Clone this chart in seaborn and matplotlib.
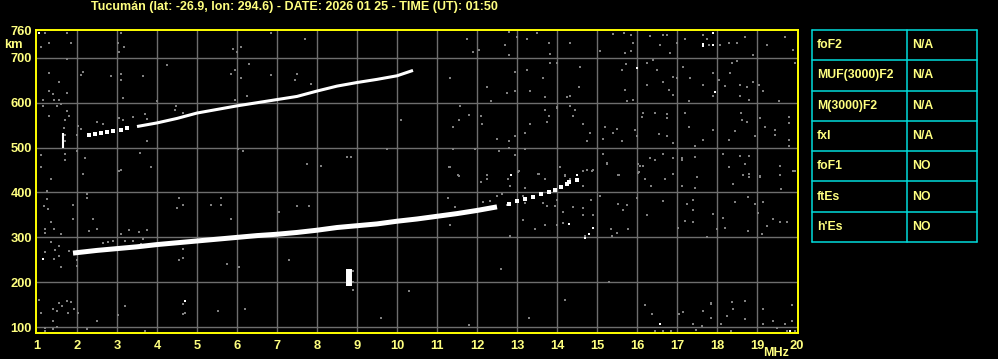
import matplotlib
matplotlib.use("Agg")
import matplotlib.pyplot as plt
import seaborn as sns
import pandas as pd

sns.set_style("dark")
plt.rcParams['font.family'] = ['Liberation Sans', 'DejaVu Sans']
plt.rcParams['font.weight'] = 'bold'

TITLE = "Tucumán (lat: -26.9, lon: 294.6) - DATE: 2026 01 25 - TIME (UT): 01:50"

x_ticks = list(range(1, 21))
y_ticks = [100, 200, 300, 400, 500, 600, 700, 760]

# lower (1-hop) F trace
f1_freq = [1.9, 2.5, 3.0, 3.5, 4.0, 4.5, 5.0, 5.5, 6.0, 6.5, 7.0, 7.5, 8.0, 8.5,
           9.0, 9.5, 10.0, 10.5, 11.0, 11.5, 12.0, 12.5]
f1_km = [265, 271, 275, 279, 284, 288, 292, 296, 300, 304, 307, 311, 316, 322,
         326, 330, 336, 341, 347, 353, 360, 368]
f1_tail_freq = [12.8, 13.0, 13.2, 13.4, 13.6, 13.8, 13.95, 14.1, 14.25, 14.3, 14.5]
f1_tail_km = [375, 380, 385, 390, 396, 402, 405, 412, 418, 424, 428]

# upper (2-hop) trace
f2_freq = [3.5, 4.0, 4.5, 5.0, 5.5, 6.0, 6.5, 7.0, 7.5, 8.0, 8.5, 9.0, 9.5, 10.0, 10.4]
f2_km = [547, 555, 565, 577, 585, 593, 600, 607, 614, 626, 637, 645, 652, 660, 672]
f2_start_freq = [2.3, 2.45, 2.6, 2.75, 2.9, 3.1, 3.25]
f2_start_km = [527, 530, 533, 534, 537, 540, 544]

# vertical bars
bar_freq = [1.65, 8.8]
bar_low = [500, 191]
bar_high = [533, 229]

# grey noise
noise_freq = [
    11.75, 12.79, 12.70, 13.0, 13.25, 13.5, 13.79, 13.83, 11.91, 12.04, 12.81, 14.33, 14.58, 14.0, 13.83,
    11.33, 12.25, 12.95, 13.25, 13.66, 12.75, 12.95, 13.33, 13.70, 14.0, 12.35, 14.25, 14.33, 14.54,
    15.08, 15.4, 15.68, 15.85, 15.91, 15.7, 15.85, 16.33, 16.65, 16.75, 16.58, 16.83, 17.0, 17.2, 17.66,
    17.75, 17.79, 18.08, 18.29, 18.5, 18.7, 18.91, 19.25, 19.7, 19.91, 15.62, 15.73, 16.25, 16.41, 16.5,
    16.66, 16.91, 17.16, 17.0, 17.33, 17.66, 17.91, 18.04, 18.2, 18.37, 18.33, 18.5, 18.58, 18.75, 18.91,
    19.16, 19.04, 19.54, 19.95, 15.75, 15.91, 15.7, 16.25, 16.79, 16.91, 17.29, 17.91, 18.58, 18.79,
    11.58, 11.8, 12.1, 11.54, 11.41, 12.12, 12.5, 12.79, 12.95, 13.33, 13.2, 13.7, 13.79, 13.75, 14.01,
    14.33, 14.45, 14.41, 14.66, 14.83, 14.75, 15.2, 15.41, 15.5, 15.62, 15.15, 15.95, 16.0, 16.15, 16.12,
    16.45, 16.75, 16.75, 16.54, 16.75, 16.91, 17.2, 17.29, 17.45, 17.66, 17.91, 18.29, 18.45, 18.6, 18.62,
    18.75, 18.95, 19.08, 19.2, 19.45, 19.45, 19.79, 19.79, 19.79, 19.8, 11.41, 11.95, 12.54, 12.81, 12.95,
    13.2, 11.33, 11.54, 12.25, 13.04, 13.54, 14.08, 14.2, 14.66, 14.9, 15.15, 15.25, 15.54, 16.08, 16.04,
    16.33, 16.45, 16.66, 16.91, 17.12, 17.45, 17.5, 18.15, 18.29, 18.58, 18.79, 18.79, 19.08, 19.58, 19.91,
    11.3, 11.53, 12.24, 12.09, 12.24, 12.78, 13.03, 12.83, 13.2, 13.53, 13.7, 14.2, 14.33, 14.64, 14.74,
    14.87, 15.24, 15.53, 16.03, 16.14, 16.03, 16.2, 16.34, 16.7, 16.91, 17.12, 17.12, 17.49, 17.45, 18.3,
    18.66, 18.81, 18.7, 19.08, 19.58, 19.58, 19.59, 19.95, 18.41, 11.28, 11.45, 12.16, 12.33, 12.49, 12.62,
    12.74, 13.14, 13.2, 13.66, 13.74, 13.95, 14.0, 14.14, 14.41, 14.66, 14.66, 14.84, 14.91, 15.08, 15.53,
    15.74, 15.64, 15.99, 16.24, 16.66, 17.24, 17.41, 17.39, 17.41, 17.91, 18.16, 18.45, 18.78, 18.95, 19.16,
    19.03, 19.39, 19.58, 19.74, 19.24, 19.12, 17.99, 18.78, 18.2, 17.74, 17.03, 17.2, 15.78, 15.49, 15.37,
    15.34, 14.89, 14.7, 14.16, 13.99, 13.7, 13.45, 13.16, 12.83, 11.33,
    1.06, 1.21, 1.74, 1.29, 1.1, 1.85, 3.1, 3.02, 3.18, 3.04, 1.75, 1.29, 2.14, 2.1, 2.85, 3.1, 3.1, 3.64,
    4.24, 1.54, 1.29, 1.39, 1.74, 1.14, 1.43, 1.54, 1.6, 1.14, 1.5, 1.74, 1.29, 1.79, 1.7, 1.68, 1.7, 1.7,
    1.7, 1.7, 2.03, 2.1, 2.29, 2.5, 2.64, 3.04, 3.14, 3.39, 3.7, 3.74, 3.14, 3.99, 4.48, 4.46, 4.64, 3.74,
    3.85, 3.58, 1.1, 1.1, 1.35, 2.14, 2.21, 3.1, 3.04, 1.99, 1.99, 5.91, 6.1, 6.0, 6.31, 5.85, 5.95, 6.1,
    6.24, 5.95, 6.85, 6.85, 7.49, 7.45, 7.7, 7.85, 6.03, 6.14, 7.74, 8.1, 8.74, 8.85, 9.74, 10.1,
    1.24, 1.24, 2.24, 2.24, 1.89, 1.27, 1.18, 1.35, 1.89, 2.39, 1.21, 1.21, 1.43, 1.6, 2.29, 2.49, 1.35,
    1.54, 1.46, 1.54, 1.43, 1.21, 1.6, 1.99, 1.99, 3.1, 3.29, 3.54, 3.74, 3.64, 4.54, 4.64, 4.49, 5.35,
    5.6, 5.6, 5.85, 4.64, 4.64, 4.54, 5.74, 6.04, 7.04, 7.49, 7.81,
    1.81, 2.64, 2.77, 2.9, 3.2, 3.4, 3.6, 3.8,
    1.05, 1.41, 1.56, 1.62, 1.51, 1.74, 1.84, 1.78, 1.93, 2.03, 1.1, 1.39, 1.2, 1.41, 1.2, 1.51, 2.49,
    2.24, 3.03, 3.2, 3.7, 4.64, 4.66, 4.7, 5.53,
    16.37, 16.45, 16.66, 16.84, 17.06, 17.16, 17.41, 17.475, 17.62, 17.66, 17.84, 17.84, 17.85, 18.09,
    18.34, 18.37, 18.24, 18.39, 18.7, 18.7, 19.16, 19.16, 19.41, 19.49, 19.7, 19.74, 19.87, 19.87, 19.95,
    8.89, 8.89, 8.89,
    11.8, 13.3, 14.2, 15.3, 16.2, 12.6, 10.3, 9.6, 7.3, 6.2,
]
noise_km = [
    742, 758, 729, 747, 742, 755, 732, 709, 714, 718, 706, 732, 680, 688, 688,
    656, 634, 669, 673, 656, 621, 625, 625, 612, 590, 603, 612, 616, 634,
    716, 752, 756, 751, 732, 710, 716, 749, 751, 751, 729, 710, 732, 742, 751,
    743, 729, 729, 732, 732, 747, 706, 729, 747, 718, 672, 686, 688, 695, 673,
    647, 658, 680, 655, 656, 640, 666, 651, 638, 688, 666, 692, 640, 636, 647,
    625, 640, 603, 688, 603, 606, 629, 640, 629, 618, 603, 614, 614, 606,
    593, 573, 571, 562, 545, 552, 519, 514, 526, 552, 532, 584, 571, 558, 588,
    592, 584, 571, 553, 532, 514, 545, 532, 541, 514, 519, 540, 525, 577, 569,
    577, 575, 566, 531, 526, 510, 577, 547, 504, 517, 540, 517, 536, 577, 562,
    558, 525, 566, 547, 540, 529, 569, 555, 517, 503, 497, 497, 492, 500, 484,
    497, 456, 437, 440, 447, 442, 456, 437, 447, 451, 486, 466, 438, 458, 446,
    477, 473, 486, 477, 477, 479, 434, 486, 456, 482, 482, 442, 436, 458, 447,
    457, 438, 440, 423, 429, 429, 445, 414, 410, 442, 429, 438, 429, 414, 451,
    447, 464, 438, 464, 458, 444, 431, 414, 429, 442, 472, 414, 435, 409, 457,
    438, 435, 464, 435, 458, 438, 407, 447, 420, 387, 367, 378, 381, 393, 396,
    373, 392, 377, 377, 370, 370, 384, 356, 367, 366, 349, 384, 349, 392, 375,
    373, 361, 387, 349, 382, 375, 383, 362, 335, 351, 344, 378, 390, 375, 378,
    355, 340, 335, 335, 325, 307, 318, 314, 321, 301, 321, 336, 318, 310, 303,
    318, 321, 303, 333, 327, 327, 318, 338, 303, 327,
    755, 756, 756, 734, 725, 734, 756, 734, 724, 712, 697, 667, 669, 662, 660, 664, 651, 660,
    683, 647, 627, 620, 621, 607, 607, 607, 598, 593, 593, 581, 571, 571, 561, 544, 529, 514,
    486, 473, 549, 541, 527, 558, 552, 566, 561, 568, 575, 564, 610, 603, 593, 584, 578, 514,
    457, 487, 483, 457, 430, 442, 477, 451, 447, 527, 492, 720, 725, 712, 687, 664, 673, 656,
    615, 607, 756, 661, 664, 651, 742, 642, 497, 492, 464, 460, 478, 478, 497, 562,
    403, 386, 396, 387, 373, 364, 370, 334, 342, 342, 319, 309, 319, 307, 314, 319, 290,
    281, 272, 258, 251, 267, 233, 250, 236, 307, 316, 312, 316, 296, 388, 373, 366, 373,
    387, 373, 342, 275, 253, 250, 240, 235, 356, 370, 370,
    270, 288, 290, 292, 293, 293, 286, 286,
    161, 140, 153, 147, 135, 158, 155, 131, 140, 131, 131, 114, 99, 95, 92, 101, 114,
    95, 127, 147, 92, 151, 129, 131, 136,
    129, 92, 92, 92, 129, 133, 107, 94, 103, 136, 151, 121, 153, 107,
    92, 155, 125, 140, 158, 118, 140, 107, 114, 99, 107, 92, 149, 114, 92,
    225, 200, 183,
    105, 120, 160, 200, 150, 230, 180, 120, 250, 140,
]

# bright (white) isolated returns
bright_freq = [17.65, 17.65, 17.9, 17.9, 17.95, 16.0, 12.85, 14.5, 14.3, 14.91, 14.81, 14.7,
               12.85, 1.14, 4.7, 16.58, 19.83, 1.06]
bright_km = [731, 727, 729, 756, 623, 678, 438, 438, 329, 321, 307, 299,
             438, 251, 158, 107, 92, 755]

table_params = ["foF2", "MUF(3000)F2", "M(3000)F2", "fxI", "foF1", "ftEs", "h'Es"]
table_values = ["N/A", "N/A", "N/A", "N/A", "NO", "NO", "NO"]

YEL = "#ffff80"
SPINE = "#ffff00"
GRID = "#6e6e6e"
NOISE = "#808080"
CYAN = "#00dcdc"

fig = plt.figure(figsize=(9.98, 3.59), dpi=100, facecolor="black")
ax = fig.add_axes([36 / 998, 26 / 359, 762 / 998, 303 / 359])
ax.set_facecolor("black")

ax.set_xlim(0.975, 20.025)
ax.set_ylim(87, 762)

# grid
for x in x_ticks[1:-1]:
    ax.axvline(x, color=GRID, lw=1.0, zorder=1)
for y in y_ticks[:-1]:
    ax.axhline(y, color=GRID, lw=1.0, zorder=1)

noise_df = pd.DataFrame({"freq": noise_freq, "km": noise_km})
sns.scatterplot(data=noise_df, x="freq", y="km", ax=ax, color=NOISE, marker="s",
                s=4.5, linewidth=0, zorder=2, antialiased=False)

bright_df = pd.DataFrame({"freq": bright_freq, "km": bright_km})
sns.scatterplot(data=bright_df, x="freq", y="km", ax=ax, color="white", marker="s",
                s=4.5, linewidth=0, zorder=3, antialiased=False)

f1_df = pd.DataFrame({"freq": f1_freq, "km": f1_km})
sns.lineplot(data=f1_df, x="freq", y="km", ax=ax, color="white", lw=3.6,
             sort=False, estimator=None, zorder=4, solid_capstyle="butt")
f1t_df = pd.DataFrame({"freq": f1_tail_freq, "km": f1_tail_km})
sns.scatterplot(data=f1t_df, x="freq", y="km", ax=ax, color="white", marker="s",
                s=6, linewidth=0, zorder=4, antialiased=False)

f2_df = pd.DataFrame({"freq": f2_freq, "km": f2_km})
sns.lineplot(data=f2_df, x="freq", y="km", ax=ax, color="white", lw=2.2,
             sort=False, estimator=None, zorder=4, solid_capstyle="butt")
f2s_df = pd.DataFrame({"freq": f2_start_freq, "km": f2_start_km})
sns.scatterplot(data=f2s_df, x="freq", y="km", ax=ax, color="white", marker="s",
                s=5, linewidth=0, zorder=4, antialiased=False)

bar_widths = [1.5, 4.3]
for bf, lo, hi, w in zip(bar_freq, bar_low, bar_high, bar_widths):
    ax.plot([bf, bf], [lo, hi], color="white", lw=w, solid_capstyle="butt", zorder=5)

ax.set_xlabel("")
ax.set_ylabel("")
ax.set_xticks(x_ticks)
ax.set_xticklabels([str(v) for v in x_ticks])
ax.set_yticks(y_ticks)
ax.set_yticklabels([str(v) for v in y_ticks])
ax.tick_params(axis="both", length=0, colors=YEL, labelsize=9.3)
ax.tick_params(axis="x", pad=5)
ax.tick_params(axis="y", pad=3)
for lab in ax.get_xticklabels() + ax.get_yticklabels():
    lab.set_fontweight("bold")
ax.grid(False)
for sp in ax.spines.values():
    sp.set_color(SPINE)
    sp.set_linewidth(1.4)
    sp.set_visible(True)

fig.text(13 / 998, 1 - 45 / 359, "km", color=YEL, fontsize=9.3, fontweight="bold",
         ha="center", va="center")
fig.text(789 / 998, 1 - 353 / 359, "MHz", color=YEL, fontsize=9.0, fontweight="bold",
         ha="right", va="center")
fig.text(294.5 / 998, 1 - 7 / 359, TITLE, color=YEL, fontsize=9.0, fontweight="bold",
         ha="center", va="center")

# parameter table
tab = fig.add_axes([812 / 998, (359 - 242) / 359, 165 / 998, 212 / 359])
tab.set_xlim(0, 165)
tab.set_ylim(7, 0)
tab.set_axis_off()
n = len(table_params)
for i in range(n + 1):
    tab.plot([0, 165], [i, i], color=CYAN, lw=1.1, clip_on=False)
for xv in (0, 95, 165):
    tab.plot([xv, xv], [0, n], color=CYAN, lw=1.1, clip_on=False)
for i, (p, v) in enumerate(zip(table_params, table_values)):
    tab.text(5, i + 0.5, p, color=YEL, fontsize=8.8, fontweight="bold", va="center", ha="left")
    tab.text(100, i + 0.5, v, color=YEL, fontsize=8.8, fontweight="bold", va="center", ha="left")

fig.savefig("out.png", dpi=100, facecolor="black")
